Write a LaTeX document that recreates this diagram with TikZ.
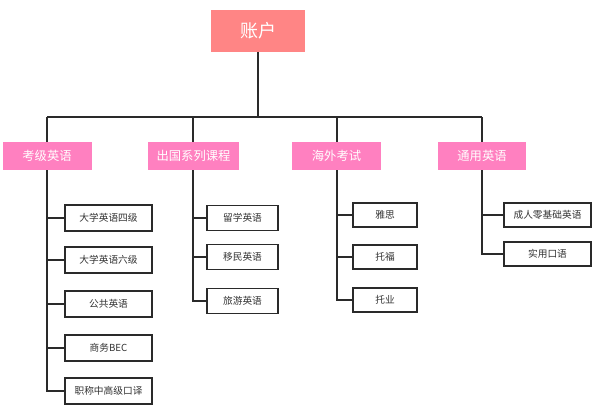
\documentclass[tikz,border=0pt]{standalone}
\usepackage{fontspec}
\setmainfont{Noto Sans CJK SC}
\begin{document}
\begin{tikzpicture}[x=1pt,y=-1pt,
  rootbox/.style={fill=rootpink,draw=none,minimum width=94pt,minimum height=42pt,text=white,font=\fontsize{18}{20}\selectfont,inner sep=0pt},
  catbox/.style={fill=catpink,draw=none,minimum width=89pt,minimum height=28pt,text=white,font=\fontsize{12.3}{14}\selectfont,inner sep=0pt},
  leafbox/.style={fill=white,draw=boxline,line width=1.6pt,minimum height=26pt,text=leaftext,font=\fontsize{9.7}{11}\selectfont,inner sep=0pt},
  conn/.style={draw=lineclr,line width=2pt}]
\definecolor{rootpink}{HTML}{FF8585}
\definecolor{catpink}{HTML}{FF80C0}
\definecolor{boxline}{HTML}{2A2A2A}
\definecolor{leaftext}{HTML}{333333}
\definecolor{lineclr}{HTML}{2A2A2A}
\useasboundingbox (0,0) rectangle (600,410);
% root
\node[rootbox] (root) at (258,31) {账户};
\coordinate (bus) at (258,117);
% categories
\node[catbox] (c1) at (47,156) {考级英语};
\node[catbox,minimum width=91pt] (c2) at (193.5,156) {出国系列课程};
\node[catbox] (c3) at (336.5,156) {海外考试};
\node[catbox,minimum width=88pt] (c4) at (482,156) {通用英语};
\coordinate (b1) at (47,117);
\coordinate (b2) at (193,117);
\coordinate (b3) at (337,117);
\coordinate (b4) at (482,117);
\draw[conn] (root.south) -- (bus);
\draw[conn] (b1) -- (b4);
\foreach \i in {1,2,3,4}{\draw[conn] (b\i) -- (b\i |- c\i.north);}
% leaves column 1
\begin{scope}[leafbox/.append style={minimum width=87pt}]
\node[leafbox] (l11) at (108.5,218) {大学英语四级};
\node[leafbox] (l12) at (108.5,260) {大学英语六级};
\node[leafbox] (l13) at (108.5,304) {公共英语};
\node[leafbox] (l14) at (108.5,348) {商务BEC};
\node[leafbox] (l15) at (108.5,391) {职称中高级口译};
\end{scope}
\coordinate (e1) at (47,391);
\draw[conn] (e1 |- c1.south) -- (e1) -- (l15.west);
\foreach \j in {1,2,3,4}{\draw[conn] (l1\j.west -| e1) -- (l1\j.west);}
% leaves column 2
\begin{scope}[leafbox/.append style={minimum width=71pt,minimum height=25pt}]
\node[leafbox] (l21) at (242.5,218) {留学英语};
\node[leafbox] (l22) at (242.5,257) {移民英语};
\node[leafbox] (l23) at (242.5,301) {旅游英语};
\end{scope}
\coordinate (e2) at (193,301);
\draw[conn] (e2 |- c2.south) -- (e2) -- (l23.west);
\foreach \j in {1,2}{\draw[conn] (l2\j.west -| e2) -- (l2\j.west);}
% leaves column 3
\begin{scope}[leafbox/.append style={minimum width=64pt,minimum height=24pt}]
\node[leafbox] (l31) at (385,215) {雅思};
\node[leafbox] (l32) at (385,257) {托福};
\node[leafbox] (l33) at (385,300) {托业};
\end{scope}
\coordinate (e3) at (337,300);
\draw[conn] (e3 |- c3.south) -- (e3) -- (l33.west);
\foreach \j in {1,2}{\draw[conn] (l3\j.west -| e3) -- (l3\j.west);}
% leaves column 4
\begin{scope}[leafbox/.append style={minimum width=87pt,minimum height=24pt}]
\node[leafbox] (l41) at (547.5,215) {成人零基础英语};
\node[leafbox] (l42) at (547.5,254) {实用口语};
\end{scope}
\coordinate (e4) at (482,254);
\draw[conn] (e4 |- c4.south) -- (e4) -- (l42.west);
\draw[conn] (l41.west -| e4) -- (l41.west);
\end{tikzpicture}
\end{document}
